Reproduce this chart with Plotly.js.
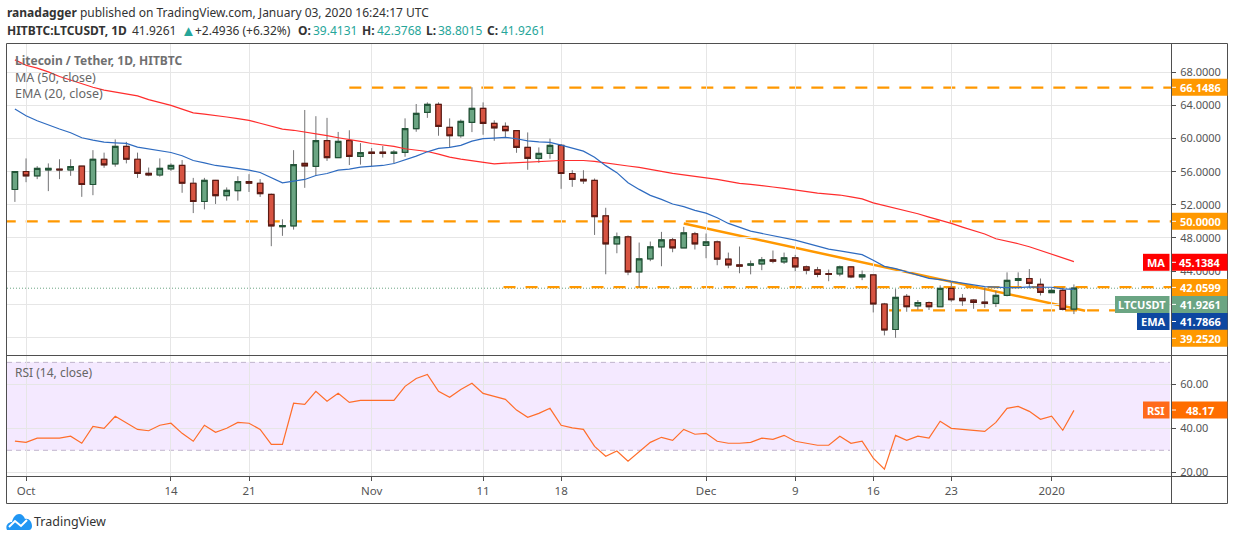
<!DOCTYPE html>
<html>
<head>
<meta charset="utf-8">
<title>LTCUSDT</title>
<script src="https://cdn.plot.ly/plotly-3.0.1.min.js"></script>
<style>
  html, body { margin: 0; padding: 0; background: #fff; overflow: hidden; }
  #chart { width: 1234px; height: 540px; }
  #logo { position: absolute; left: 6px; top: 513px; }
</style>
</head>
<body>
<div id="chart"></div>
<svg id="logo" width="27" height="18" viewBox="0 0 27 18">
  <path d="M1 17 C-1 13 2 9 6 9 C7 4 10 1 13 1 C16 1 18 3 19 6 C23 5 26 9 26 13 C26 15 25 17 23 17 Z" fill="#2196f3"/>
  <path d="M3 14 L9 8 L15 13 L21 7" fill="none" stroke="#fff" stroke-width="2"/>
</svg>
<script>
// ── data ──
const dates = [
  '2019-09-30',
  '2019-10-01','2019-10-02','2019-10-03','2019-10-04','2019-10-05','2019-10-06','2019-10-07','2019-10-08',
  '2019-10-09','2019-10-10','2019-10-11','2019-10-12','2019-10-13','2019-10-14','2019-10-15','2019-10-16',
  '2019-10-17','2019-10-18','2019-10-19','2019-10-20','2019-10-21','2019-10-22','2019-10-23','2019-10-24',
  '2019-10-25','2019-10-26','2019-10-27','2019-10-28','2019-10-29','2019-10-30','2019-10-31',
  '2019-11-01','2019-11-02','2019-11-03','2019-11-04','2019-11-05','2019-11-06','2019-11-07','2019-11-08',
  '2019-11-09','2019-11-10','2019-11-11','2019-11-12','2019-11-13','2019-11-14','2019-11-15','2019-11-16',
  '2019-11-17','2019-11-18','2019-11-19','2019-11-20','2019-11-21','2019-11-22','2019-11-23','2019-11-24',
  '2019-11-25','2019-11-26','2019-11-27','2019-11-28','2019-11-29','2019-11-30',
  '2019-12-01','2019-12-02','2019-12-03','2019-12-04','2019-12-05','2019-12-06','2019-12-07','2019-12-08',
  '2019-12-09','2019-12-10','2019-12-11','2019-12-12','2019-12-13','2019-12-14','2019-12-15','2019-12-16',
  '2019-12-17','2019-12-18','2019-12-19','2019-12-20','2019-12-21','2019-12-22','2019-12-23','2019-12-24',
  '2019-12-25','2019-12-26','2019-12-27','2019-12-28','2019-12-29','2019-12-30','2019-12-31',
  '2020-01-01','2020-01-02','2020-01-03'
];
const opens = [
  53.85,
  56.02,55.5,56.2,56.3,56.2,56.67,54.45,57.5,56.95,59.05,57.5,55.8,55.6,56.35,56.75,54.6,
  52.4,54.95,53.1,53.7,54.8,54.6,53.25,49.35,49.45,57.0,56.65,59.75,57.7,59.75,57.85,
  58.35,58.35,58.2,58.32,61.19,63.16,64.13,61.35,60.34,61.95,63.65,61.83,61.47,60.95,58.93,57.6,
  58.2,59.17,55.78,55.06,54.94,50.67,47.28,48.13,43.9,45.47,46.92,47.77,46.8,48.49,
  47.1,47.52,45.43,44.74,44.7,44.86,45.35,45.1,45.6,44.5,44.14,43.7,43.65,44.5,43.3,43.53,
  40.02,36.94,40.94,39.8,40.2,39.69,41.9,40.69,40.49,40.25,40.09,41.06,42.87,43.1,42.4,
  41.4,41.66,39.41
];
const highs = [
  56.02,
  57.6,56.67,57.0,57.5,57.5,56.7,58.6,58.3,59.9,59.6,58.3,56.5,57.6,57.0,57.4,55.25,
  55.25,55.0,54.1,55.45,55.7,55.1,53.35,50.25,58.6,63.45,62.7,62.5,60.8,61.0,59.45,
  58.85,59.1,58.6,62.44,64.17,64.37,64.37,62.44,62.3,66.19,64.37,62.2,61.95,60.95,60.74,58.93,
  60.0,59.33,56.18,56.18,55.18,51.64,48.65,48.3,47.44,47.56,48.73,48.0,49.34,48.73,
  48.53,47.68,46.23,46.96,45.27,45.7,46.48,46.23,45.95,44.66,44.5,44.18,44.66,44.6,44.06,43.53,
  40.15,41.82,41.22,40.49,40.33,42.27,42.75,41.22,40.6,42.0,41.6,43.84,43.84,44.24,43.1,
  42.0,42.0,42.38
];
const lows = [
  52.35,
  54.73,55.1,53.65,55.1,55.5,52.96,53.16,56.47,56.6,57.0,55.25,55.45,55.4,56.1,53.45,51.0,
  51.45,52.1,52.5,52.5,53.55,52.95,47.0,48.25,49.0,54.05,55.5,57.3,57.7,56.8,56.85,
  56.65,57.7,57.0,57.8,60.82,62.5,60.34,58.97,60.1,60.78,60.46,59.73,60.1,58.28,56.23,57.07,
  57.56,53.93,54.17,54.53,48.36,43.61,46.15,43.5,42.0,45.19,44.58,46.27,46.8,46.6,
  45.55,44.7,44.34,43.73,43.6,44.1,44.94,44.86,43.98,43.6,43.25,42.77,43.37,43.13,42.9,39.0,
  36.23,35.94,39.08,39.32,39.3,39.69,40.29,39.8,39.44,39.56,39.65,40.94,42.15,41.9,41.05,
  41.34,39.24,38.8
];
const closes = [
  56.02,
  55.5,56.39,56.39,56.2,56.6,54.45,57.5,56.83,59.05,57.5,55.8,55.6,56.4,56.75,54.6,52.4,
  54.95,53.1,53.75,54.8,54.6,53.35,49.45,49.5,56.85,56.7,59.75,57.7,59.65,57.85,58.3,
  58.2,58.2,58.35,61.19,63.04,64.13,61.47,60.34,62.07,63.65,61.83,61.3,60.95,58.93,57.6,58.2,
  59.17,55.78,55.06,54.9,50.58,47.28,48.13,43.9,45.47,46.92,47.77,46.8,48.61,47.28,
  47.52,45.43,44.74,44.58,44.86,45.35,45.18,45.6,44.5,44.1,43.6,43.6,44.5,43.3,43.53,40.02,
  36.88,40.81,39.69,40.2,39.69,41.9,40.53,40.41,40.2,40.09,41.06,42.87,43.1,42.5,41.42,
  41.66,39.36,41.93
];
const ma50 = [
  69.5,
  68.85,68.5,68.05,67.5,67.05,66.6,66.2,65.85,65.6,65.35,65.15,64.7,64.35,64.0,63.55,63.1,
  62.95,62.8,62.6,62.4,62.2,61.85,61.5,61.15,61.0,60.8,60.6,60.35,60.1,59.9,59.65,
  59.4,59.25,59.05,58.77,58.56,58.44,58.12,57.76,57.52,57.35,57.1,56.95,57.03,57.1,57.2,57.27,
  57.3,57.35,57.35,57.35,57.25,57.09,56.89,56.69,56.52,56.32,56.04,55.8,55.64,55.4,
  55.31,55.07,54.83,54.59,54.47,54.35,54.15,53.98,53.78,53.54,53.42,53.3,53.18,52.95,52.72,52.24,
  51.92,51.56,51.24,50.92,50.51,50.15,49.75,49.31,48.91,48.47,47.9,47.62,47.3,46.94,46.5,
  46.06,45.57,45.14
];
const ema20 = [
  63.56,
  62.76,62.15,61.63,61.15,60.7,60.1,59.81,59.57,59.49,59.41,58.97,58.73,58.52,58.32,57.92,57.35,
  57.07,56.75,56.59,56.43,56.19,55.9,55.26,54.65,54.85,55.06,55.54,55.78,56.19,56.31,56.55,
  56.63,56.75,56.99,57.4,57.88,58.4,58.81,58.93,59.17,59.69,59.98,60.06,60.14,59.98,59.73,59.61,
  59.53,59.21,58.81,58.48,57.73,56.73,55.88,54.67,53.86,53.14,52.65,52.09,51.77,51.32,
  51.0,50.44,49.75,49.27,48.82,48.54,48.3,47.98,47.73,47.37,46.97,46.65,46.44,46.23,45.98,45.3,
  44.57,44.29,43.89,43.45,43.12,42.96,42.72,42.48,42.32,42.12,42.04,42.0,42.0,42.08,42.04,
  42.04,41.84,41.79
];
const rsi14 = [
  34.2,
  33.6,35.5,35.5,35.5,36.4,33.2,40.9,40.0,45.5,42.4,39.5,38.9,41.4,42.3,37.7,34.1,
  41.4,38.2,40.0,42.7,42.3,39.5,32.7,32.7,51.4,50.9,56.8,52.3,55.9,51.8,52.7,
  52.7,52.7,52.7,59.1,62.7,64.5,56.8,54.1,57.7,60.5,55.9,54.5,53.2,48.3,45.0,46.8,
  49.1,41.4,40.2,39.5,31.8,27.3,29.7,25.0,29.4,33.6,35.9,34.5,39.5,37.3,
  37.7,34.1,33.2,33.2,33.6,35.5,35.0,36.8,34.1,33.2,32.3,32.3,36.4,33.2,34.1,26.4,
  21.4,36.8,34.5,36.4,35.5,43.2,40.0,39.5,39.1,38.6,42.7,49.1,50.0,47.7,44.1,
  45.5,39.1,48.17
];

const levelPrices = [66.1486, 50, 42.0599, 39.252];
const levelStarts = ['2019-10-30', '2019-09-29', '2019-11-12 20:00', '2019-12-17 10:00'];
const trendDates  = ['2019-11-29', '2020-01-04'];
const trendPrices = [49.74, 39.2];
const lastClose = 41.9261;

const priceTicks = [68, 64, 60, 56, 52, 48, 44, 40, 36];
const rsiTicks   = [60, 40, 20];
const timeTicks  = ['2019-10-01','2019-10-14','2019-10-21','2019-11-01','2019-11-11','2019-11-18',
                    '2019-12-01','2019-12-09','2019-12-16','2019-12-23','2020-01-01'];
const timeLabels = ['Oct','14','21','Nov','11','18','Dec','9','16','23','2020'];

// ── layout helpers, pixel to paper ──
const W = 1234, H = 540;
const px = x => x / W;
const py = y => 1 - y / H;
const FONT = '"Noto Sans", sans-serif';
const GRID = '#e6e6e6', AXIS = '#4f4f4f', TEXT = '#555555';
const ORANGE = '#ff9800', GREEN = '#6ba583', DKGREEN = '#225437', RED = '#d75442', DKRED = '#5b1a13';
const TEAL = '#26a69a', BLUE = '#0d47a1', MARED = '#ff0000', RSIORANGE = '#ff6d00';

const bodyHigh = opens.map((o, i) => Math.max(o, closes[i]));
const bodyLow  = opens.map((o, i) => Math.min(o, closes[i]));

const candleBase = { type: 'candlestick', x: dates, xaxis: 'x', yaxis: 'y', hoverinfo: 'skip', showlegend: false };

const traces = [
  // wicks first, gray, bodies go on top
  { ...candleBase, open: opens, high: highs, low: lows, close: closes, whiskerwidth: 0,
    increasing: { line: { color: '#737375', width: 1 }, fillcolor: GREEN },
    decreasing: { line: { color: '#737375', width: 1 }, fillcolor: RED } },
  { ...candleBase, open: opens, high: bodyHigh, low: bodyLow, close: closes, whiskerwidth: 0,
    increasing: { line: { color: DKGREEN, width: 1.2 }, fillcolor: GREEN },
    decreasing: { line: { color: DKRED, width: 1.2 }, fillcolor: RED } },
  { type: 'scatter', mode: 'lines', x: dates, y: ma50, xaxis: 'x', yaxis: 'y', hoverinfo: 'skip',
    showlegend: false, line: { color: '#ff2d2d', width: 1.2 } },
  { type: 'scatter', mode: 'lines', x: dates, y: ema20, xaxis: 'x', yaxis: 'y', hoverinfo: 'skip',
    showlegend: false, line: { color: '#2e6bc0', width: 1.2 } },
  { type: 'scatter', mode: 'lines', x: dates, y: rsi14, xaxis: 'x', yaxis: 'y2', hoverinfo: 'skip',
    showlegend: false, line: { color: '#ff6d2a', width: 1.2 } },
];

const frameLine = { color: AXIS, width: 1 };
const shapes = [
  // RSI band and its bounds
  { type: 'rect', xref: 'paper', yref: 'y2', x0: px(7), x1: px(1170), y0: 30, y1: 70,
    fillcolor: 'rgba(153,51,255,0.11)', line: { width: 0 }, layer: 'below' },
  { type: 'line', xref: 'paper', yref: 'y2', x0: px(7), x1: px(1170), y0: 70, y1: 70,
    line: { color: '#c0b4cc', width: 1, dash: '5px,4px' }, layer: 'below' },
  { type: 'line', xref: 'paper', yref: 'y2', x0: px(7), x1: px(1170), y0: 30, y1: 30,
    line: { color: '#c0b4cc', width: 1, dash: '5px,4px' }, layer: 'below' },
  // last price
  { type: 'line', xref: 'paper', yref: 'y', x0: px(7), x1: px(1171), y0: lastClose, y1: lastClose,
    line: { color: GREEN, width: 1, dash: '1px,2px' }, layer: 'below' },
  // trend line
  { type: 'line', xref: 'x', yref: 'y', x0: trendDates[0], x1: trendDates[1], y0: trendPrices[0], y1: trendPrices[1],
    line: { color: ORANGE, width: 2.5 }, layer: 'below' },
  // frame
  { type: 'rect', xref: 'paper', yref: 'paper', x0: px(6.5), x1: px(1227.5), y0: py(43.5), y1: py(503.5), line: frameLine },
  { type: 'line', xref: 'paper', yref: 'paper', x0: px(6.5), x1: px(1227.5), y0: py(355.5), y1: py(355.5), line: frameLine },
  { type: 'line', xref: 'paper', yref: 'paper', x0: px(6.5), x1: px(1227.5), y0: py(476.5), y1: py(476.5), line: frameLine },
  { type: 'line', xref: 'paper', yref: 'paper', x0: px(1171.5), x1: px(1171.5), y0: py(43.5), y1: py(503.5), line: frameLine },
];
levelPrices.forEach((p, i) => shapes.push({
  type: 'line', xref: 'x', yref: 'y', x0: levelStarts[i], x1: '2020-01-12', y0: p, y1: p,
  line: { color: ORANGE, width: 2.2, dash: '12px,10px' }, layer: 'below',
}));

const note = (x, y, text, font) => ({
  xref: 'paper', yref: 'paper', x: px(x), y: py(y), xanchor: 'left', yanchor: 'middle',
  text, showarrow: false, align: 'left', borderpad: 0,
  font: { family: FONT, size: 12, color: '#333', ...font },
});

const annotations = [
  note(5.5, 12, '<b>ranadagger</b> published on TradingView.com, January 03, 2020 16:24:17 UTC'),
  note(5.5, 30, '<b>HITBTC:LTCUSDT, 1D</b>'),
  note(131, 30, '41.9261'),
  note(180, 30, '▲', { color: TEAL, size: 15 }),
  note(194, 30, '+2.4936 (+6.32%)'),
  note(297, 30, '<b>O:</b>'),
  note(312, 30, '39.4131', { color: TEAL }),
  note(361, 30, '<b>H:</b>'),
  note(376, 30, '42.3768', { color: TEAL }),
  note(425, 30, '<b>L:</b>'),
  note(437, 30, '38.8015', { color: TEAL }),
  note(486, 30, '<b>C:</b>'),
  note(500, 30, '41.9261', { color: TEAL }),
  note(14, 60, '<b>Litecoin / Tether, 1D, HITBTC</b>', { color: '#707070', size: 12 }),
  note(14, 77, 'MA (50, close)', { color: '#666', size: 12.5 }),
  note(14, 94, 'EMA (20, close)', { color: '#666', size: 12.5 }),
  note(14, 372, 'RSI (14, close)', { color: '#666', size: 12 }),
  note(33, 521, 'TradingView', { color: '#333', size: 12.5 }),
];

// price tags on the axis: box, small white tick, text
const tag = (x, y, w, text, bg, tick) => {
  shapes.push({ type: 'rect', xref: 'paper', yref: 'paper', x0: px(x), x1: px(x + w), y0: py(y - 8.5), y1: py(y + 8.5),
    fillcolor: bg, line: { width: 0 } });
  if (tick) shapes.push({ type: 'line', xref: 'paper', yref: 'paper', x0: px(x), x1: px(x + 4), y0: py(y), y1: py(y),
    line: { color: '#fff', width: 1 } });
  annotations.push({ xref: 'paper', yref: 'paper', x: px(tick ? x + 28 : x + w / 2), y: py(y), xanchor: 'center', yanchor: 'middle',
    text: `<b>${text}</b>`, showarrow: false, borderpad: 0, font: { family: FONT, size: 11, color: '#fff' } });
};
tag(1172, 87.3, 55.5, '66.1486', ORANGE, true);
tag(1172, 221.3, 55.5, '50.0000', ORANGE, true);
tag(1172, 262.3, 55.5, '45.1384', MARED, true);
tag(1143, 262.3, 26.5, 'MA', MARED);
tag(1172, 287.4, 55.5, '42.0599', ORANGE, true);
tag(1172, 304.4, 55.5, '41.9261', GREEN, true);
tag(1115, 304.4, 54.5, 'LTCUSDT', GREEN);
tag(1172, 321.5, 55.5, '41.7866', BLUE, true);
tag(1137, 321.5, 32.5, 'EMA', BLUE);
tag(1172, 338.3, 55.5, '39.2520', ORANGE, true);
tag(1172, 410, 55.5, '48.17', RSIORANGE, true);
tag(1143, 410, 26.5, 'RSI', '#ff6a1a');

const yStyle = {
  side: 'right', tickmode: 'array', ticks: 'outside', ticklen: 4, tickcolor: AXIS, ticklabelstandoff: 2,
  showgrid: true, gridcolor: GRID, gridwidth: 1, zeroline: false, showline: false,
  tickfont: { family: FONT, size: 11, color: TEXT },
};

const layout = {
  width: W, height: H,
  margin: { t: 0, r: 0, b: 0, l: 0 },
  paper_bgcolor: '#fff', plot_bgcolor: '#fff',
  showlegend: false, hovermode: false, dragmode: false,
  boxmode: 'overlay', boxgap: 0.3,
  xaxis: {
    type: 'date', domain: [px(7), px(1171)], anchor: 'y2',
    range: ['2019-09-29 07:00', '2020-01-11 17:00'],
    tickvals: timeTicks, ticktext: timeLabels, tickmode: 'array',
    ticks: 'outside', ticklen: 4, tickcolor: AXIS,
    showgrid: true, gridcolor: GRID, gridwidth: 1, zeroline: false, showline: false,
    rangeslider: { visible: false },
    tickfont: { family: FONT, size: 11.5, color: TEXT },
  },
  yaxis: {
    ...yStyle, domain: [py(355), py(44)], anchor: 'x',
    range: [33.86, 71.42], tickvals: priceTicks, ticktext: priceTicks.map(v => v.toFixed(4)),
  },
  yaxis2: {
    ...yStyle, domain: [py(476), py(356)], anchor: 'x',
    range: [18.3, 72.9], tickvals: rsiTicks, ticktext: rsiTicks.map(v => v.toFixed(2)),
  },
  shapes, annotations,
};

Plotly.newPlot('chart', traces, layout, { staticPlot: true, displayModeBar: false });
</script>
</body>
</html>
